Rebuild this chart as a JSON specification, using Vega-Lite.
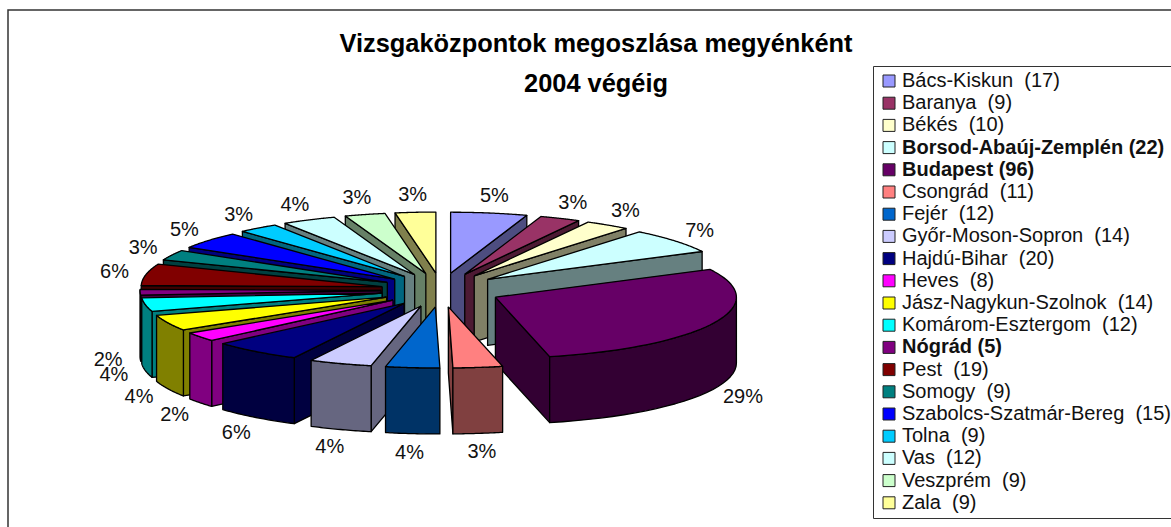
{"$schema":"https://vega.github.io/schema/vega-lite/v6.json","width":1164,"height":518,"autosize":"none","padding":{"left":8,"top":10,"right":0,"bottom":0},"background":"white","config":{"view":{"stroke":"#333333","strokeWidth":1.5},"font":"Liberation Sans"},"title":{"text":["Vizsgaközpontok megoszlása megyénként","2004 végéig"],"font":"Liberation Sans","fontSize":25.4,"fontWeight":"bold","color":"black","anchor":"middle","frame":"group","orient":"top","offset":-87,"dx":6,"lineHeight":40},"data":{"values":[{"i":20,"county":"Zala \u00a0(9)","n":9},{"i":1,"county":"Bács-Kiskun \u00a0(17)","n":17},{"i":19,"county":"Veszprém \u00a0(9)","n":9},{"i":2,"county":"Baranya \u00a0(9)","n":9},{"i":18,"county":"Vas \u00a0(12)","n":12},{"i":3,"county":"Békés \u00a0(10)","n":10},{"i":17,"county":"Tolna \u00a0(9)","n":9},{"i":16,"county":"Szabolcs-Szatmár-Bereg \u00a0(15)","n":15},{"i":4,"county":"Borsod-Abaúj-Zemplén (22)","n":22},{"i":15,"county":"Somogy \u00a0(9)","n":9},{"i":14,"county":"Pest \u00a0(19)","n":19},{"i":13,"county":"Nógrád (5)","n":5},{"i":12,"county":"Komárom-Esztergom \u00a0(12)","n":12},{"i":11,"county":"Jász-Nagykun-Szolnok \u00a0(14)","n":14},{"i":5,"county":"Budapest (96)","n":96},{"i":10,"county":"Heves \u00a0(8)","n":8},{"i":9,"county":"Hajdú-Bihar \u00a0(20)","n":20},{"i":8,"county":"Győr-Moson-Sopron \u00a0(14)","n":14},{"i":6,"county":"Csongrád \u00a0(11)","n":11},{"i":7,"county":"Fejér \u00a0(12)","n":12}]},"transform":[{"joinaggregate":[{"op":"sum","field":"n","as":"total"}]},{"window":[{"op":"sum","field":"n","as":"cum"}],"sort":[{"field":"i","order":"ascending"}]},{"calculate":"(datum.cum-datum.n)/datum.total*2*PI","as":"a0"},{"calculate":"datum.cum/datum.total*2*PI","as":"a1"},{"calculate":"(datum.a0+datum.a1)/2","as":"mid"}],"layer":[{"transform":[{"calculate":"max(datum.a0,PI/2)","as":"b0"},{"calculate":"min(datum.a1,3*PI/2)","as":"b1"},{"calculate":"[0,1,2,3]","as":"faces"},{"flatten":["faces"],"as":["face"]},{"filter":"datum.face==3||(datum.face==0&&sin(datum.a0)<-0.000001)||(datum.face==1&&sin(datum.a1)>0.000001)||(datum.face==2&&datum.b1>datum.b0)"},{"calculate":"sequence(51)","as":"steps"},{"flatten":["steps"],"as":["k"]},{"calculate":"datum.face==3?((datum.k==0||datum.k==50)?0:1):(datum.face==2?1:((datum.k==1||datum.k==2)?1:0))","as":"rad"},{"calculate":"datum.face==3?datum.a0+(datum.a1-datum.a0)*(datum.k-1)/48:(datum.face==2?(datum.k==50?datum.b0:(datum.k<=24?datum.b0+(datum.b1-datum.b0)*datum.k/24:datum.b1+(datum.b0-datum.b1)*(datum.k-25)/24)):(datum.face==0?datum.a0:datum.a1))","as":"ang"},{"calculate":"datum.face==3?0:(datum.face==2?((datum.k>=25&&datum.k<50)?66:0):((datum.k>=2&&datum.k<50)?66:0))","as":"z"},{"calculate":"441+60*sin(datum.mid)+datum.rad*241*sin(datum.ang)","as":"px"},{"calculate":"290-17*cos(datum.mid)-datum.rad*61*cos(datum.ang)+datum.z","as":"py"},{"calculate":"datum.face==3?datum.county:datum.county+' dark'","as":"paint"},{"calculate":"datum.county+'-'+datum.face","as":"piece"}],"mark":{"type":"line","stroke":"black","strokeWidth":1.3,"strokeJoin":"round","clip":false},"encoding":{"x":{"field":"px","type":"quantitative","axis":null,"scale":{"domain":[8,1172],"nice":false,"zero":false}},"y":{"field":"py","type":"quantitative","axis":null,"scale":{"domain":[528,10],"nice":false,"zero":false}},"order":{"field":"k","type":"quantitative"},"detail":{"field":"piece"},"fill":{"field":"paint","type":"nominal","scale":{"domain":["Bács-Kiskun \u00a0(17)","Baranya \u00a0(9)","Békés \u00a0(10)","Borsod-Abaúj-Zemplén (22)","Budapest (96)","Csongrád \u00a0(11)","Fejér \u00a0(12)","Győr-Moson-Sopron \u00a0(14)","Hajdú-Bihar \u00a0(20)","Heves \u00a0(8)","Jász-Nagykun-Szolnok \u00a0(14)","Komárom-Esztergom \u00a0(12)","Nógrád (5)","Pest \u00a0(19)","Somogy \u00a0(9)","Szabolcs-Szatmár-Bereg \u00a0(15)","Tolna \u00a0(9)","Vas \u00a0(12)","Veszprém \u00a0(9)","Zala \u00a0(9)","Bács-Kiskun \u00a0(17) dark","Baranya \u00a0(9) dark","Békés \u00a0(10) dark","Borsod-Abaúj-Zemplén (22) dark","Budapest (96) dark","Csongrád \u00a0(11) dark","Fejér \u00a0(12) dark","Győr-Moson-Sopron \u00a0(14) dark","Hajdú-Bihar \u00a0(20) dark","Heves \u00a0(8) dark","Jász-Nagykun-Szolnok \u00a0(14) dark","Komárom-Esztergom \u00a0(12) dark","Nógrád (5) dark","Pest \u00a0(19) dark","Somogy \u00a0(9) dark","Szabolcs-Szatmár-Bereg \u00a0(15) dark","Tolna \u00a0(9) dark","Vas \u00a0(12) dark","Veszprém \u00a0(9) dark","Zala \u00a0(9) dark"],"range":["#9999FF","#993366","#FFFFCC","#CCFFFF","#660066","#FF8080","#0066CC","#CCCCFF","#000080","#FF00FF","#FFFF00","#00FFFF","#800080","#800000","#008080","#0000FF","#00CCFF","#CCFFFF","#CCFFCC","#FFFF99","#4D4D80","#4D1A33","#808066","#668080","#330033","#804040","#003366","#666680","#000040","#800080","#808000","#008080","#400040","#400000","#004040","#000080","#006680","#668080","#668066","#80804D"]},"legend":{"title":null,"orient":"none","legendX":865,"legendY":56,"values":["Bács-Kiskun \u00a0(17)","Baranya \u00a0(9)","Békés \u00a0(10)","Borsod-Abaúj-Zemplén (22)","Budapest (96)","Csongrád \u00a0(11)","Fejér \u00a0(12)","Győr-Moson-Sopron \u00a0(14)","Hajdú-Bihar \u00a0(20)","Heves \u00a0(8)","Jász-Nagykun-Szolnok \u00a0(14)","Komárom-Esztergom \u00a0(12)","Nógrád (5)","Pest \u00a0(19)","Somogy \u00a0(9)","Szabolcs-Szatmár-Bereg \u00a0(15)","Tolna \u00a0(9)","Vas \u00a0(12)","Veszprém \u00a0(9)","Zala \u00a0(9)"],"symbolType":"square","symbolSize":144,"symbolStrokeColor":"#222222","symbolStrokeWidth":1,"symbolOpacity":1,"symbolOffset":1,"labelFont":"Liberation Sans","labelFontSize":20,"labelColor":"#111111","labelLimit":400,"labelOffset":3,"rowPadding":2.2,"padding":5,"fillColor":"white","strokeColor":"#333333","encode":{"labels":{"update":{"fontWeight":[{"test":"indexof(['Borsod-Abaúj-Zemplén (22)','Budapest (96)','Nógrád (5)'],datum.label)>=0","value":"bold"},{"value":"normal"}]}}}}}}},{"transform":[{"calculate":"round(datum.n/datum.total*100)+'%'","as":"pct"},{"calculate":"441+333*sin(datum.mid)","as":"px"},{"calculate":"291-96*cos(datum.mid)+(cos(datum.mid)<0?66:0)","as":"py"}],"mark":{"type":"text","font":"Liberation Sans","fontSize":20,"color":"#111111","align":"center","baseline":"middle"},"encoding":{"x":{"field":"px","type":"quantitative"},"y":{"field":"py","type":"quantitative"},"text":{"field":"pct"}}}]}
